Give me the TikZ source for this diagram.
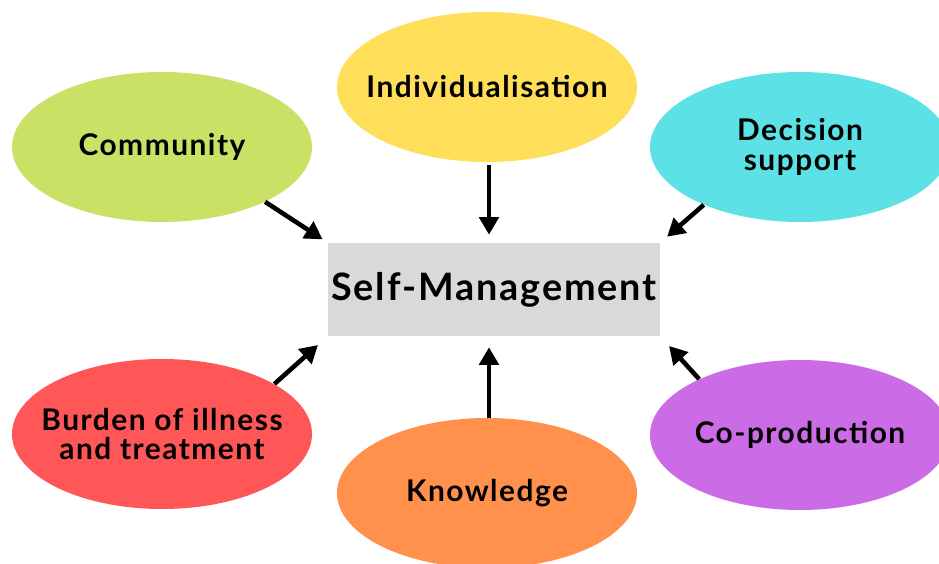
\documentclass[tikz,border=0pt]{standalone}
\usepackage{fontspec}
\setmainfont{Lato}[LetterSpace=5]
\usepackage{tikz}
\usetikzlibrary{positioning, arrows.meta, shapes.geometric}

\definecolor{limegreen}{HTML}{C9E265}
\definecolor{sunyellow}{HTML}{FFDE59}
\definecolor{skycyan}{HTML}{5CE1E6}
\definecolor{coralred}{HTML}{FF5757}
\definecolor{softorange}{HTML}{FF914D}
\definecolor{lilac}{HTML}{CB6CE6}
\definecolor{boxgray}{HTML}{D9D9D9}

\tikzset{
	factor/.style={ellipse, minimum width=6cm, minimum height=3cm, inner sep=0pt},
	tag/.style={align=center, inner sep=0pt, font=\fontsize{17}{17}\selectfont\bfseries},
	hub/.style={rectangle, fill=boxgray, minimum width=6.64cm, minimum height=1.86cm,
		inner sep=0pt, font=\fontsize{21.5}{24}\selectfont\bfseries},
	feed/.style={-{Triangle[length=10pt, width=11pt]}, line width=2.6pt, black}
}

\begin{document}
\begin{tikzpicture}
	\useasboundingbox (0, 0) rectangle (18.78, 11.28);
	
	% Centre box
	\node[hub] (sm) at (9.88, 5.49) {Self-Management};
	
	% Surrounding factors (fixed size ellipses, text set on top)
	\node[factor, fill=limegreen] (comm) at (3.24, 8.34) {};
	\node[factor, fill=sunyellow] (ind) at (9.74, 9.54) {};
	\node[factor, fill=skycyan] (dec) at (16.0, 8.34) {};
	\node[factor, fill=coralred] (burd) at (3.24, 2.6) {};
	\node[factor, fill=softorange] (know) at (9.74, 1.42) {};
	\node[factor, fill=lilac] (cop) at (16.0, 2.58) {};
	
	\node[tag] (commtext) at (comm) {Community};
	\node[tag] (indtext) at (ind) {Individualisation};
	\node[tag] (dectext) at (dec) {Decision\\support};
	\node[tag] (burdtext) at (burd) {Burden of illness\\and treatment};
	\node[tag] (knowtext) at (know) {Knowledge};
	\node[tag] (coptext) at (cop) {Co-production};
	
	% Arrows into the box
	\draw[feed, shorten >=0.12cm] (comm.-28) -- (sm.north west);
	\draw[feed, shorten >=0.16cm, shorten <=0.06cm] ([xshift=0.04cm]ind.south) -- ([xshift=0.04cm]ind.south |- sm.north);
	\draw[feed, shorten >=0.18cm] (dec.211) -- (sm.north east);
	\draw[feed, shorten >=0.26cm] (burd.24) -- (sm.south west);
	\draw[feed, shorten >=0.22cm] ([xshift=0.04cm]know.north) -- ([xshift=0.04cm]know.north |- sm.south);
	\draw[feed, shorten >=0.26cm] (cop.151) -- (sm.south east);
\end{tikzpicture}
\end{document}
